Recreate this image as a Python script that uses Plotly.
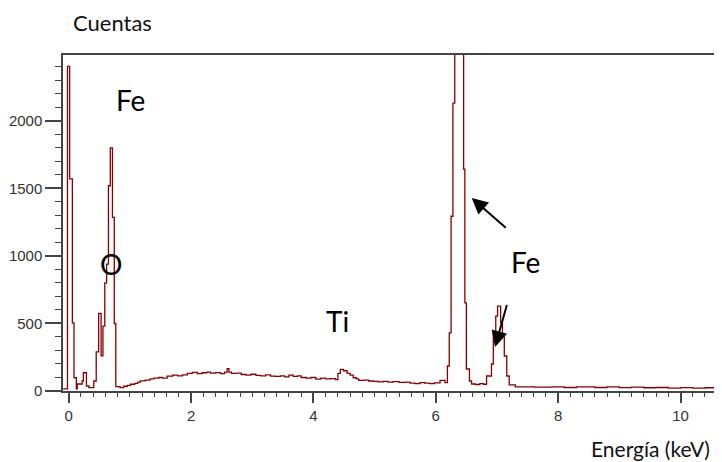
import plotly.graph_objects as go

# Channel left edges (keV) and counts of the EDS spectrum (step histogram)
energy_kev = [
    -0.09, -0.02, 0.016, 0.06, 0.087, 0.125, 0.14, 0.22, 0.24, 0.29, 0.33, 0.41,
    0.45, 0.49, 0.53, 0.56, 0.59, 0.62, 0.65, 0.68, 0.715, 0.745, 0.77,
    0.84, 0.90, 0.96, 1.01, 1.08, 1.13, 1.17, 1.25, 1.33, 1.39, 1.47, 1.53,
    1.61, 1.70, 1.78, 1.86, 1.94, 2.02, 2.10, 2.18, 2.26, 2.32, 2.40, 2.48,
    2.55, 2.59, 2.62, 2.66, 2.74, 2.82, 2.90, 2.98, 3.06, 3.14, 3.22, 3.30,
    3.38, 3.46, 3.53, 3.60, 3.67, 3.74, 3.80, 3.88, 3.96, 4.04, 4.12, 4.20,
    4.28, 4.36, 4.40, 4.44, 4.49, 4.55, 4.60, 4.65, 4.70, 4.74, 4.82, 4.90,
    4.98, 5.06, 5.14, 5.22, 5.30, 5.40, 5.50, 5.58, 5.66, 5.74, 5.82, 5.90,
    5.98, 6.07, 6.15, 6.19, 6.22, 6.25, 6.28, 6.31, 6.35, 6.40, 6.43, 6.455,
    6.475, 6.50, 6.55, 6.585, 6.65, 6.72, 6.78, 6.83, 6.91, 6.94, 6.98, 7.01,
    7.06, 7.09, 7.12, 7.16, 7.20, 7.30, 7.60, 7.90, 8.10, 8.30, 8.60, 8.80,
    9.00, 9.20, 9.40, 9.60, 9.80, 10.00, 10.20, 10.40, 10.60, 10.70,
]
counts = [
    15, 2404, 1570, 505, 98, 15, 52, 74, 135, 37, 25, 74,
    290, 575, 260, 480, 800, 940, 1520, 1800, 1285, 500, 32,
    25, 35, 42, 50, 57, 65, 75, 80, 90, 95, 100, 95,
    110, 118, 112, 120, 130, 138, 128, 135, 140, 132, 136, 128,
    140, 165, 140, 130, 132, 122, 118, 124, 115, 112, 120, 110,
    108, 112, 104, 118, 108, 112, 100, 95, 100, 88, 95, 90,
    92, 84, 130, 160, 150, 130, 118, 98, 90, 78, 80, 74,
    72, 68, 72, 66, 70, 64, 66, 58, 55, 62, 58, 55,
    60, 78, 62, 185, 431, 1294, 2132, 6000, 9000, 9000, 6000, 1642,
    653, 163, 74, 52, 48, 55, 50, 111, 200, 431, 555, 629,
    505, 407, 259, 111, 45, 30, 28, 30, 26, 30, 26, 30,
    25, 28, 24, 26, 22, 25, 22, 24, 22, 22,
]

x_tick_vals = [0, 2, 4, 6, 8, 10]
y_tick_vals = [0, 500, 1000, 1500, 2000]

AXIS_COLOR = "#444444"
TEXT_FONT = "Lato"

fig = go.Figure()
fig.add_trace(go.Scatter(
    x=energy_kev, y=counts, mode="lines",
    line=dict(color="#850000", width=1.3, shape="hv"),
    hoverinfo="skip", showlegend=False,
))

fig.update_layout(
    width=714, height=454,
    margin=dict(l=55, r=0, t=47, b=71),
    paper_bgcolor="white", plot_bgcolor="white",
    showlegend=False,
    xaxis=dict(
        range=[-0.093, 10.678], tickvals=x_tick_vals,
        showgrid=False, zeroline=False,
        showline=True, linecolor=AXIS_COLOR, linewidth=1.5, mirror=True,
        ticks="outside", ticklen=10, tickwidth=1.5, tickcolor=AXIS_COLOR,
        tickfont=dict(family="Liberation Sans", size=15, color="#333333"),
        minor=dict(dtick=0.2, ticks="outside", ticklen=4, tickwidth=1, tickcolor=AXIS_COLOR),
    ),
    yaxis=dict(
        range=[0, 2488], tickvals=y_tick_vals,
        showgrid=False, zeroline=False,
        showline=True, linecolor=AXIS_COLOR, linewidth=1.5,
        ticks="outside", ticklen=16, tickwidth=1.5, tickcolor=AXIS_COLOR,
        tickfont=dict(family="Liberation Sans", size=15, color="#333333"),
        minor=dict(dtick=100, ticks="outside", ticklen=6, tickwidth=1, tickcolor=AXIS_COLOR),
    ),
)

# Axis titles as free text
fig.add_annotation(text="Cuentas", xref="paper", yref="paper", x=0.012, y=1.098,
                   xanchor="left", yanchor="middle", showarrow=False,
                   font=dict(family=TEXT_FONT, size=22, color="#111111"))
fig.add_annotation(text="Energía (keV)", xref="paper", yref="paper", x=0.985, y=-0.171,
                   xanchor="right", yanchor="middle", showarrow=False,
                   font=dict(family=TEXT_FONT, size=21, color="#111111"))

# Element labels
labels = [("Fe", 1.018, 2153), ("O", 0.691, 938), ("Ti", 4.394, 516), ("Fe", 7.474, 953)]
for txt, lx, ly in labels:
    fig.add_annotation(text=txt, x=lx, y=ly, xref="x", yref="y", showarrow=False,
                       xanchor="center", yanchor="middle",
                       font=dict(family=TEXT_FONT, size=28, color="#000000"))

# Arrows pointing at the Fe K peaks
arrows = [(6.587, 1430, 35.6, 31.3), (6.968, 326, 12.3, -43.4)]
for axx, ayy, dx, dy in arrows:
    fig.add_annotation(text="", x=axx, y=ayy, xref="x", yref="y",
                       ax=dx, ay=dy, showarrow=True, arrowhead=2, arrowsize=1.6,
                       arrowwidth=2, arrowcolor="#000000", standoff=0)

fig.write_html("out.html")
